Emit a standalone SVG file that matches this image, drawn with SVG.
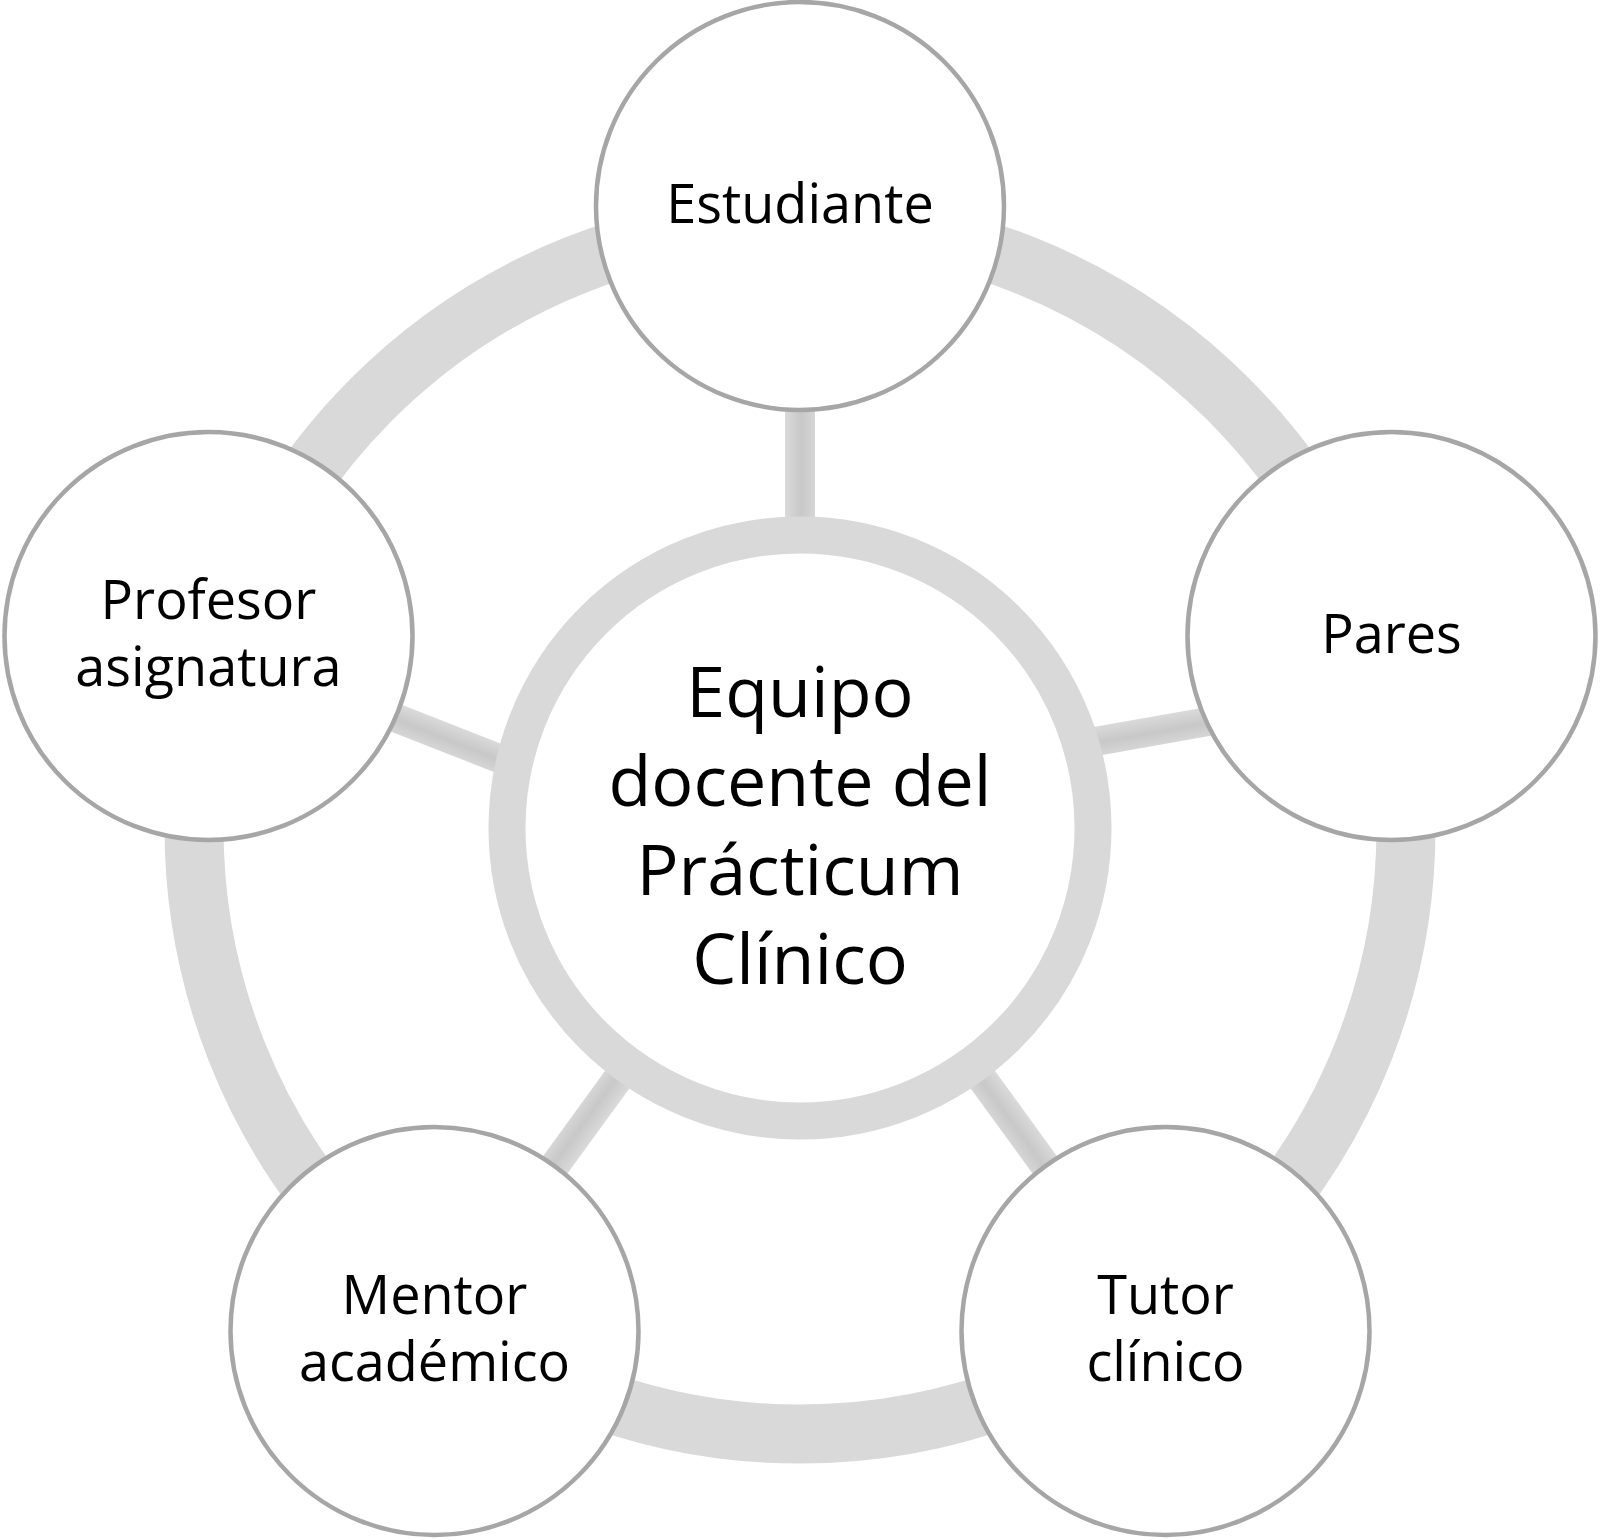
<svg xmlns="http://www.w3.org/2000/svg" width="1600" height="1540" viewBox="0 0 1600 1540">
  <style>
    .node { fill: #ffffff; stroke: #a6a6a6; stroke-width: 4.5; }
    .lbl { font-family: "Open Sans", "Noto Sans", "Liberation Sans", sans-serif; font-size: 54px; fill: #000000; text-anchor: middle; }
    .clbl { font-family: "Open Sans", "Noto Sans", "Liberation Sans", sans-serif; font-size: 70px; fill: #000000; text-anchor: middle; }
    .ring { fill: none; stroke: #d9d9d9; }
  </style>
  <defs>
    <linearGradient id="spokeGrad" x1="0" y1="0" x2="1" y2="0">
      <stop offset="0" stop-color="#dadada"/>
      <stop offset="0.55" stop-color="#c8c8c8"/>
      <stop offset="1" stop-color="#d6d6d6"/>
    </linearGradient>
    <linearGradient id="spokeGradH" x1="0" y1="0" x2="0" y2="1">
      <stop offset="0" stop-color="#dadada"/>
      <stop offset="0.55" stop-color="#c8c8c8"/>
      <stop offset="1" stop-color="#d6d6d6"/>
    </linearGradient>
    <rect id="spoke" x="785" y="396" width="30" height="130" fill="url(#spokeGrad)"/>
    <rect id="spokeH" x="0" y="-14.5" width="134" height="29" fill="url(#spokeGradH)"/>
  </defs>
  <rect x="0" y="0" width="1600" height="1540" fill="#ffffff"/>

  <g id="connectors">
    <circle class="ring" cx="800" cy="828" r="606" stroke-width="59"/>
    <use href="#spoke"/>
    <use href="#spokeH" transform="translate(1083.2 743.6) rotate(-10)"/>
    <use href="#spoke" transform="rotate(144 800 828)"/>
    <use href="#spoke" transform="rotate(216 800 828)"/>
    <use href="#spokeH" transform="translate(387 714.5) rotate(21.4)"/>
  </g>

  <g id="center">
    <circle cx="800" cy="828" r="293" fill="#ffffff" stroke="#d9d9d9" stroke-width="37"/>
    <text class="clbl" x="800" y="717">Equipo</text>
    <text class="clbl" x="800" y="806">docente del</text>
    <text class="clbl" x="800" y="895">Prácticum</text>
    <text class="clbl" x="800" y="984">Clínico</text>
  </g>

  <g id="estudiante">
    <circle class="node" cx="800" cy="206" r="204"/>
    <text class="lbl" x="800" y="223">Estudiante</text>
  </g>

  <g id="pares">
    <circle class="node" cx="1391.5" cy="636" r="204"/>
    <text class="lbl" x="1391.5" y="653">Pares</text>
  </g>

  <g id="tutor">
    <circle class="node" cx="1165.5" cy="1331" r="204"/>
    <text class="lbl" x="1165.5" y="1314">Tutor</text>
    <text class="lbl" x="1165.5" y="1381">clínico</text>
  </g>

  <g id="mentor">
    <circle class="node" cx="434.5" cy="1331" r="204"/>
    <text class="lbl" x="434.5" y="1314">Mentor</text>
    <text class="lbl" x="434.5" y="1381">académico</text>
  </g>

  <g id="profesor">
    <circle class="node" cx="208.5" cy="636" r="204"/>
    <text class="lbl" x="208.5" y="619">Profesor</text>
    <text class="lbl" x="208.5" y="686">asignatura</text>
  </g>
</svg>
